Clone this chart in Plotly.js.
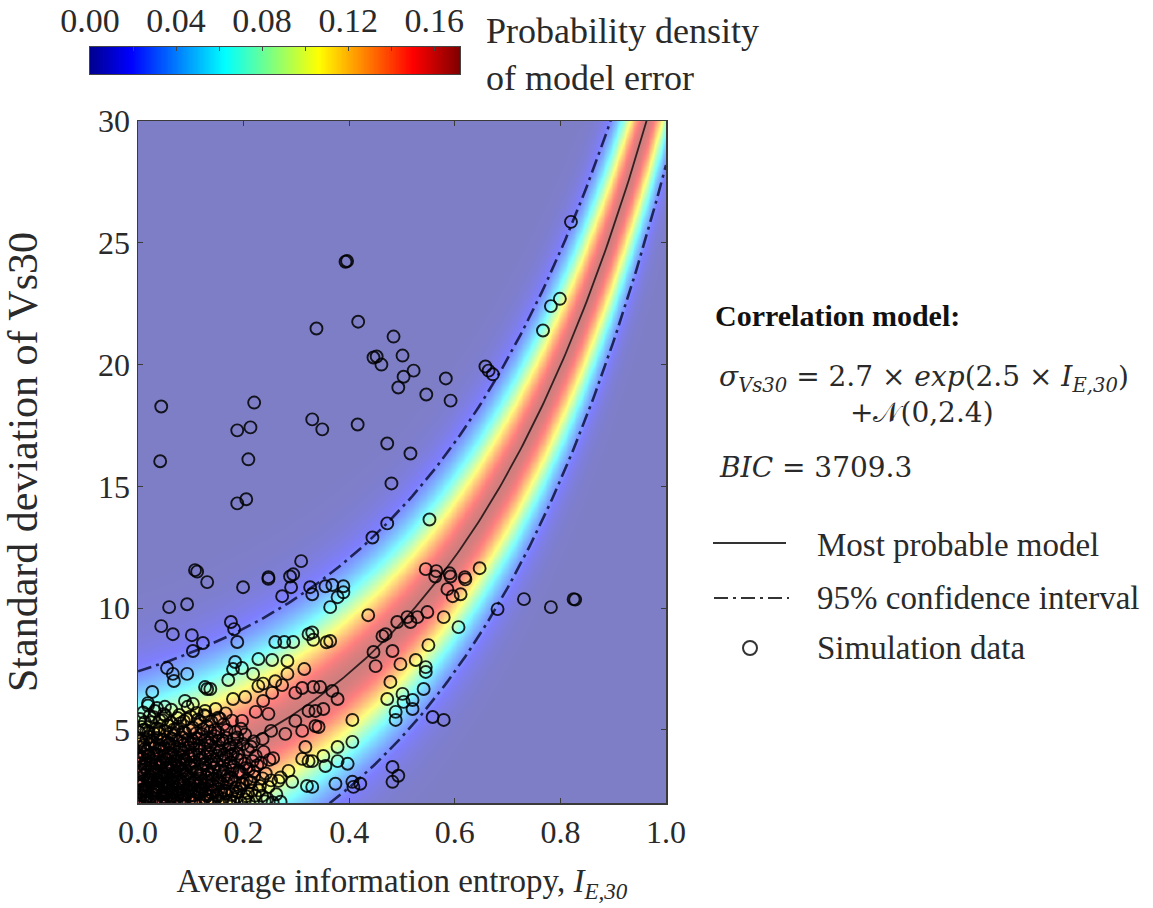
<!DOCTYPE html>
<html>
<head>
<meta charset="utf-8">
<script src="https://cdn.plot.ly/plotly-3.0.1.min.js"></script>
<style>html,body{margin:0;padding:0;background:#fff;}#chart{width:1153px;height:908px;}</style>
</head>
<body>
<div id="chart"></div>
<script>
// ---- model parameters (from the chart's stated correlation model) ----
const modelCoef = [2.7, 2.5];      // sigma = 2.7*exp(2.5*I)
const modelNoiseSd = [2.4];        // N(0, 2.4)
const ciZ = [1.96];                // 95% interval

// ---- axis ticks ----
const xTickVals = [0, 0.2, 0.4, 0.6, 0.8, 1.0];
const xTickText = ['0.0', '0.2', '0.4', '0.6', '0.8', '1.0'];
const yTickVals = [5, 10, 15, 20, 25, 30];
const cbLabelVals = [0, 0.04, 0.08, 0.12, 0.16];
const cbLabelText = ['0.00', '0.04', '0.08', '0.12', '0.16'];
const cbRange = [0, 0.172];

// ---- simulation data ----
const sparseX = [0.393,0.396,0.338,0.417,0.484,0.820,0.799,0.782,0.767,
  0.044,0.042,0.220,0.188,0.213,0.209,0.188,0.205,0.330,0.349,0.416,
  0.108,0.112,0.309,0.294,0.247,0.131,
  0.446,0.452,0.461,0.501,0.522,0.503,0.493,0.583,0.546,0.592,0.658,0.664,0.672,
  0.472,0.516,0.480,0.552,0.472,0.444,
  0.545,0.565,0.590,0.619,0.647,0.731,0.782,0.825,0.828,0.681];
const sparseY = [24.22,24.25,21.48,21.76,21.15,25.86,22.70,22.40,21.40,
  18.28,16.03,18.44,17.30,17.42,16.11,14.30,14.47,17.75,17.34,17.54,
  11.56,11.50,11.93,11.39,11.27,11.07,
  20.29,20.33,20.00,20.37,19.75,19.50,19.06,19.43,18.77,18.52,19.92,19.75,19.60,
  16.76,16.35,15.12,13.64,13.48,12.90,
  11.60,11.52,11.43,11.27,11.64,10.37,10.04,10.37,10.35,9.96];

const midX = [0.199,0.247,0.290,0.288,0.059,0.093,0.044,0.066,0.102,0.123,0.104,0.176,0.182,0.188,0.273,0.260,0.277,0.294,0.323,0.326,
  0.055,0.066,0.068,0.093,0.184,0.197,0.180,0.228,0.254,0.283,0.315,0.218,0.171,0.127,0.137,0.260,0.283,0.237,0.027,0.019,
  0.330,0.355,0.368,0.389,0.389,0.378,0.364,0.436,0.491,0.510,0.516,0.529,0.548,0.579,0.607,0.586,0.596,0.611,0.620,0.592,0.563,
  0.469,0.463,0.482,0.446,0.450,0.497,0.526,0.550,0.545,0.545,0.541,0.478,0.472,0.501,0.503,0.520,0.520,0.488,0.488,0.558,0.579,0.406,
  0.332,0.345,0.368,0.378,0.351,0.336,0.336,0.342,0.406,0.378,0.351,0.355,0.378,0.397,0.330,0.330,0.374,0.406,0.408,0.421,0.482,0.493,0.482,
  0.330,0.332,0.364,0.357];
const midY = [10.86,11.20,10.86,11.30,10.04,10.16,9.26,8.93,8.89,8.57,8.24,9.43,9.14,8.61,10.49,8.61,8.61,8.61,8.93,10.86,
  7.54,7.30,7.01,7.30,7.79,7.54,7.50,7.91,7.87,7.83,7.50,7.30,7.05,6.76,6.68,7.00,7.30,6.90,6.56,6.10,
  10.57,10.90,10.95,10.90,10.65,10.45,10.04,9.71,9.43,9.63,9.43,9.63,9.84,9.63,9.22,10.78,10.49,10.57,11.18,11.30,11.30,
  8.93,8.85,8.24,8.20,7.62,7.70,7.87,8.48,7.58,7.38,6.68,6.97,6.27,6.48,6.15,6.23,5.86,5.74,5.41,5.53,5.41,5.41,
  6.76,6.76,6.60,6.27,5.86,5.78,5.16,5.12,4.51,4.30,3.93,3.52,3.72,3.61,3.72,2.66,2.79,2.87,2.66,2.79,3.48,3.12,2.87,
  9.00,8.70,8.65,8.60];

const lowX = [0.131,0.228,0.180,0.203,0.237,0.254,0.273,0.298,0.311,0.089,0.104,0.051,0.032,0.019,0.323,0.298,0.247,0.223,0.197,0.152,0.127,
  0.279,0.311,0.252,0.317,0.323,0.311,0.285,0.266,0.292,0.320,0.247,0.216,0.235];
const lowY = [6.68,6.80,6.27,6.35,6.19,6.52,6.84,6.52,6.72,6.19,6.07,5.95,5.78,6.00,5.78,5.37,5.66,5.74,5.37,5.50,5.78,
  4.84,4.96,4.96,4.30,3.72,3.81,3.32,2.91,2.87,2.70,2.66,2.50,2.30];

const denseX = [
  0.003,0.011,0.018,0.027,0.035,0.044,0.052,0.061,0.069,0.078,0.088,0.097,0.106,0.115,0.126,0.137,0.149,0.161,0.174,0.188,0.203,0.222,
  0.006,0.015,0.024,0.033,0.041,0.050,0.058,0.067,0.077,0.086,0.095,0.104,0.113,0.123,0.134,0.146,0.158,0.171,0.185,0.199,0.214,0.231,
  0.004,0.013,0.022,0.031,0.040,0.049,0.057,0.066,0.075,0.084,0.094,0.103,0.112,0.122,0.133,0.144,0.156,0.168,0.181,0.195,0.210,0.226,0.242,
  0.008,0.017,0.026,0.036,0.045,0.054,0.063,0.072,0.082,0.091,0.101,0.111,0.121,0.132,0.143,0.155,0.167,0.180,0.194,0.208,0.223,0.238,0.256,
  0.003,0.012,0.021,0.030,0.039,0.048,0.058,0.068,0.079,0.089,0.100,0.110,0.121,0.133,0.146,0.160,0.174,0.188,0.203,0.219,0.236,
  0.007,0.016,0.025,0.035,0.046,0.057,0.068,0.080,0.092,0.104,0.117,0.131,0.146,0.162,0.178,0.195,
  0.010,0.022,0.036,0.049,0.063,0.078,0.094,0.111,0.128,0.147,0.166,
  0.002,0.009,0.016,0.023,0.029,0.037,0.043,0.049,0.056,0.063,0.071,0.080,0.092,0.108,0.118,
  0.005,0.014,0.020,0.038,0.047,0.055,0.065,0.074,0.083,0.099,0.116,0.128,0.142,0.157,0.176];
const denseY = [
  2.12,2.31,2.08,2.40,2.18,2.05,2.36,2.22,2.10,2.44,2.15,2.28,2.06,2.38,2.20,2.11,2.33,2.17,2.09,2.26,2.14,2.30,
  2.71,2.58,2.93,2.66,3.02,2.75,2.61,2.88,2.69,2.97,2.56,2.83,2.72,2.60,2.91,2.67,2.80,2.95,2.63,2.78,2.86,2.70,
  3.25,3.48,3.12,3.39,3.56,3.20,3.44,3.15,3.52,3.30,3.08,3.41,3.27,3.58,3.18,3.46,3.33,3.11,3.50,3.24,3.37,3.55,3.21,
  3.86,4.12,3.74,3.98,4.21,3.80,4.05,3.91,4.17,3.72,3.95,4.24,3.83,4.08,3.77,4.15,3.89,4.02,3.76,4.19,3.93,4.10,3.84,
  4.52,4.38,4.71,4.47,4.86,4.60,4.41,4.77,4.55,4.89,4.44,4.66,4.83,4.49,4.74,4.58,4.40,4.69,4.81,4.53,4.63,
  5.12,4.98,5.31,5.06,5.40,5.18,5.02,5.27,5.44,5.09,5.35,5.15,5.00,5.22,5.38,5.05,
  5.72,5.58,5.90,5.65,5.83,5.61,5.95,5.70,5.56,5.86,5.68,
  2.45,2.88,2.27,3.05,2.52,2.95,3.62,2.40,3.10,2.50,3.70,2.30,3.15,2.55,3.00,
  3.80,3.60,3.95,2.48,3.68,2.82,3.45,2.35,3.88,2.62,2.42,2.55,2.98,2.45,3.65];

const packX = [
  0.008,0.016,0.031,0.039,0.048,0.057,0.065,0.074,0.083,0.092,0.101,0.111,0.120,0.131,0.142,0.153,0.166,0.179,0.193,0.208,0.229,0.245,0.262,
  0.002,0.011,0.020,0.029,0.037,0.046,0.054,0.062,0.071,0.080,0.090,0.099,0.109,0.118,0.129,0.140,0.151,0.163,0.177,0.191,0.206,0.220,0.236,0.252,0.270,
  0.006,0.015,0.024,0.034,0.043,0.052,0.061,0.070,0.079,0.088,0.098,0.107,0.117,0.127,0.138,0.150,0.162,0.175,0.188,0.202,0.217,0.233,0.249,
  0.004,0.013,0.022,0.032,0.041,0.050,0.060,0.069,0.078,0.087,0.096,0.106,0.116,0.126,0.137,0.149,0.161,0.173,0.186,0.199,0.214,
  0.002,0.011,0.020,0.030,0.040,0.051,0.062,0.074,0.086,0.098,0.110,0.123,0.137,0.152,0.168,0.184,
  0.004,0.013,0.030,0.041,0.052,0.063,0.075,0.087,0.100,0.113,0.125,0.139,0.155,
  0.001,0.014,0.022,0.031,0.048,0.056,0.073,0.082,0.101,0.119,0.131,0.143,0.155,0.167,0.180,0.195,0.210,0.240,0.255,0.270];
const packY = [
  2.55,2.20,2.48,2.62,2.25,2.58,2.42,2.23,2.60,2.35,2.52,2.44,2.61,2.29,2.50,2.57,2.39,2.48,2.59,2.41,2.52,2.18,2.36,
  3.00,3.14,2.96,3.18,2.92,3.08,3.22,2.98,3.12,2.94,3.20,3.03,2.91,3.16,3.06,3.19,2.95,3.11,3.04,3.23,2.97,3.09,3.01,2.93,3.05,
  3.62,3.75,3.58,3.70,3.66,3.79,3.60,3.73,3.64,3.78,3.57,3.69,3.76,3.63,3.71,3.59,3.74,3.67,3.80,3.61,3.72,3.65,3.77,
  4.30,4.22,4.41,4.28,4.36,4.25,4.44,4.32,4.21,4.39,4.27,4.43,4.34,4.23,4.37,4.29,4.46,4.26,4.35,4.42,4.31,
  4.90,5.01,4.93,4.87,5.04,4.95,4.88,5.06,4.92,4.99,4.86,5.03,4.94,4.89,5.00,4.91,
  5.45,5.32,5.52,5.38,5.58,5.30,5.49,5.36,5.55,5.42,5.60,5.34,5.47,
  2.02,2.05,2.00,2.08,2.03,2.06,2.01,2.07,2.04,2.02,2.09,2.00,2.05,2.03,2.06,2.01,2.04,2.07,2.02,2.05];

const coreX = [
  0.005,0.014,0.025,0.036,0.046,0.055,0.066,0.076,0.085,0.094,0.105,0.117,0.128,0.139,0.151,0.164,0.177,0.190,0.205,
  0.001,0.010,0.019,0.028,0.038,0.047,0.056,0.065,0.075,0.086,0.097,0.107,0.118,0.130,0.141,0.154,0.168,0.182,0.197,0.212,
  0.009,0.018,0.027,0.035,0.044,0.053,0.062,0.071,0.080,0.090,0.100,0.110,0.120,0.131,0.142,0.154,0.166,0.179,0.192,0.205,0.219,
  0.003,0.012,0.021,0.030,0.040,0.049,0.058,0.067,0.077,0.086,0.096,0.106,0.116,0.127,0.138,0.150,0.163,0.176,0.190,
  0.006,0.016,0.026,0.036,0.045,0.055,0.064,0.074,0.084,0.094,0.105,0.115,0.127,0.140,0.153,0.167,0.181];
const coreY = [
  2.33,2.47,2.26,2.52,2.35,2.44,2.29,2.56,2.38,2.47,2.31,2.54,2.36,2.42,2.27,2.50,2.34,2.45,2.28,
  2.84,2.78,2.87,2.81,2.76,2.89,2.83,2.79,2.86,2.82,2.77,2.90,2.80,2.85,2.75,2.88,2.81,2.86,2.78,2.84,
  3.36,3.30,3.42,3.33,3.28,3.45,3.35,3.31,3.40,3.34,3.47,3.29,3.38,3.32,3.43,3.28,3.39,3.35,3.31,3.44,3.30,
  3.95,4.00,3.92,4.04,3.97,3.90,4.03,3.96,3.99,4.06,3.93,4.01,3.98,3.91,4.05,3.94,4.00,3.96,4.03,
  4.58,4.62,4.55,4.67,4.60,4.52,4.64,4.57,4.69,4.61,4.54,4.65,4.59,4.63,4.56,4.68,4.60];

const simX = [].concat(sparseX, midX, lowX, denseX, packX, coreX);
const simY = [].concat(sparseY, midY, lowY, denseY, packY, coreY);

// ---- model curves & density field ----
const gridX = [], gridY = [];
for (let i = 0; i <= 200; i++) gridX.push(i / 200);
for (let j = 0; j <= 280; j++) gridY.push(2 + j * 0.1);
const meanAt = x => modelCoef[0] * Math.exp(modelCoef[1] * x);
const sd = modelNoiseSd[0];
const z = gridY.map(y => gridX.map(x => {
  const d = (y - meanAt(x)) / sd;
  return Math.exp(-0.5 * d * d) / (sd * Math.sqrt(2 * Math.PI));
}));
const lineX = gridX;
const meanY = lineX.map(meanAt);
const upperY = lineX.map(x => meanAt(x) + ciZ[0] * sd);
const lowerY = lineX.map(x => meanAt(x) - ciZ[0] * sd);

// colour-bar strip (the scale itself)
const cbX = [];
for (let i = 0; i <= 300; i++) cbX.push(cbRange[1] * i / 300);

const jet = [[0,'rgb(0,0,143)'],[0.111,'rgb(0,0,255)'],[0.365,'rgb(0,255,255)'],
             [0.619,'rgb(255,255,0)'],[0.873,'rgb(255,0,0)'],[1,'rgb(128,0,0)']];
const serif = 'Liberation Serif, Times New Roman, serif';
const txt = '#2a2a2a';

const FW = 1153, FH = 908;
const fx = v => v / FW;
const fy = v => (FH - v) / FH;

const traces = [
  {type:'heatmap', x:gridX, y:gridY, z:z, colorscale:jet, zmin:cbRange[0], zmax:cbRange[1],
   zsmooth:'best', opacity:0.5, showscale:false, hoverinfo:'skip'},
  {type:'scatter', mode:'lines', x:lineX, y:upperY, opacity:0.75, line:{color:'#000022', width:2.6, dash:'14px,5px,3px,5px'}, hoverinfo:'skip', showlegend:false},
  {type:'scatter', mode:'lines', x:lineX, y:lowerY, opacity:0.75, line:{color:'#000022', width:2.6, dash:'14px,5px,3px,5px'}, hoverinfo:'skip', showlegend:false},
  {type:'scatter', mode:'lines', x:lineX, y:meanY, opacity:0.75, line:{color:'#000', width:1.8}, hoverinfo:'skip', showlegend:false},
  {type:'scatter', mode:'markers', x:simX, y:simY,
   marker:{symbol:'circle-open', size:12, color:'#000', opacity:0.85, line:{width:1.9, color:'#000'}},
   hoverinfo:'skip', showlegend:false},
  // colour bar drawn as its own strip
  {type:'heatmap', x:cbX, y:[0.5], z:[cbX], xaxis:'x3', yaxis:'y3', colorscale:jet, zmin:cbRange[0], zmax:cbRange[1],
   showscale:false, hoverinfo:'skip'}
];

const annotations = [
  {text:'Probability density<br>of model error', align:'left', x:fx(484), y:fy(54), xref:'paper', yref:'paper',
   showarrow:false, font:{family:serif, size:36, color:txt}, xanchor:'left', yanchor:'middle'},
  {text:'<b>Correlation model:</b>', x:fx(713), y:fy(315), xref:'paper', yref:'paper', showarrow:false,
   font:{family:serif, size:30, color:'#111'}, xanchor:'left', yanchor:'middle'},
  {text:'<i>σ</i><sub><i>Vs30</i></sub> = 2.7 × <i>exp</i>(2.5 × <i>I</i><sub><i>E,30</i></sub>)', x:fx(717), y:fy(378), xref:'paper', yref:'paper',
   showarrow:false, font:{family:'DejaVu Serif, serif', size:28, color:txt}, xanchor:'left', yanchor:'middle'},
  {text:'+𝒩(0,2.4)', x:fx(922), y:fy(412), xref:'paper', yref:'paper',
   showarrow:false, font:{family:'DejaVu Serif, serif', size:28, color:txt}, xanchor:'center', yanchor:'middle'},
  {text:'<i>BIC</i> = 3709.3', x:fx(717), y:fy(467), xref:'paper', yref:'paper',
   showarrow:false, font:{family:'DejaVu Serif, serif', size:28, color:txt}, xanchor:'left', yanchor:'middle'},
  {text:'Most probable model', x:fx(815), y:fy(545), xref:'paper', yref:'paper', showarrow:false,
   font:{family:serif, size:33, color:txt}, xanchor:'left', yanchor:'middle'},
  {text:'95% confidence interval', x:fx(815), y:fy(598), xref:'paper', yref:'paper', showarrow:false,
   font:{family:serif, size:33, color:txt}, xanchor:'left', yanchor:'middle'},
  {text:'Simulation data', x:fx(815), y:fy(648), xref:'paper', yref:'paper', showarrow:false,
   font:{family:serif, size:33, color:txt}, xanchor:'left', yanchor:'middle'}
];

const shapes = [
  {type:'line', xref:'paper', yref:'paper', x0:fx(713), x1:fx(786), y0:fy(543), y1:fy(543), line:{color:'#333', width:2}},
  {type:'line', xref:'paper', yref:'paper', x0:fx(714), x1:fx(789), y0:fy(598), y1:fy(598), line:{color:'#333', width:2, dash:'14px,5px,3px,5px'}},
  {type:'circle', xref:'paper', yref:'paper', x0:fx(743), x1:fx(757), y0:fy(641), y1:fy(655), line:{color:'#333', width:2}}
];

const axisCommon = {showgrid:false, zeroline:false, showline:true, mirror:'ticks', linecolor:'#3a3a3a', linewidth:1.5,
  ticks:'inside', ticklen:5, tickcolor:'#3a3a3a', tickfont:{family:serif, size:32, color:txt}, layer:'above traces', automargin:false};

const layout = {
  width:FW, height:FH,
  margin:{l:0, r:0, t:0, b:0, pad:0},
  paper_bgcolor:'#fff', plot_bgcolor:'#fff',
  showlegend:false,
  xaxis:Object.assign({}, axisCommon, {domain:[fx(138), fx(666)], range:[0,1], tickvals:xTickVals, ticktext:xTickText,
    title:{text:'Average information entropy, <i>I</i><sub><i>E,30</i></sub>', standoff:20, font:{family:serif, size:33, color:txt}}}),
  yaxis:Object.assign({}, axisCommon, {domain:[fy(803), fy(121)], range:[2,30], tickvals:yTickVals,
    title:{text:'Standard deviation of Vs30', standoff:58, font:{family:serif, size:42, color:txt}}}),
  xaxis3:{domain:[fx(90), fx(460)], anchor:'y3', range:cbRange, side:'top', showgrid:false, zeroline:false,
    showline:true, mirror:true, linecolor:'#444', linewidth:1, ticks:'inside', ticklen:4, tickcolor:'#444',
    tickvals:cbLabelVals, ticktext:cbLabelText, tickfont:{family:serif, size:34, color:txt},
    minor:{dtick:0.02, tick0:0, ticks:'inside', ticklen:4, tickcolor:'#444'}, layer:'above traces', automargin:false},
  yaxis3:{domain:[fy(74), fy(47)], anchor:'x3', range:[0,1], showgrid:false, zeroline:false, showticklabels:false,
    showline:true, mirror:true, linecolor:'#444', linewidth:1, ticks:'', automargin:false},
  annotations:annotations,
  shapes:shapes
};

Plotly.newPlot('chart', traces, layout, {displayModeBar:false, staticPlot:true});
</script>
</body>
</html>
